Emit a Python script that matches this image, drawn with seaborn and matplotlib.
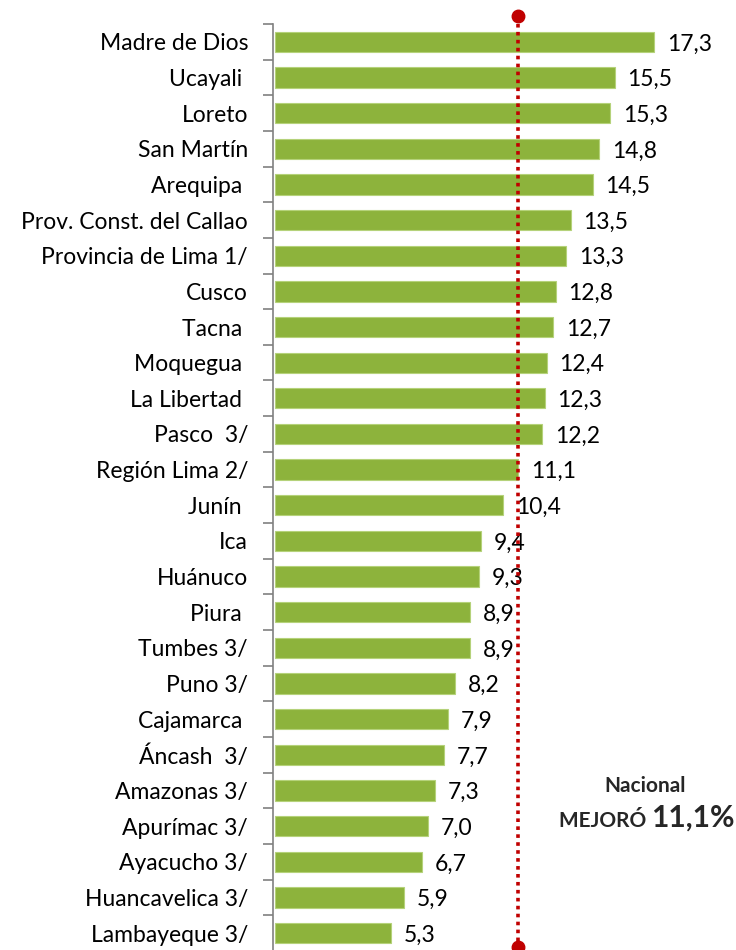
import matplotlib
matplotlib.use("Agg")
import matplotlib.pyplot as plt
import seaborn as sns
import pandas as pd
import numpy as np

regions = ["Madre de Dios", "Ucayali ", "Loreto", "San Martín", "Arequipa ",
           "Prov. Const. del Callao", "Provincia de Lima 1/", "Cusco", "Tacna ",
           "Moquegua ", "La Libertad ", "Pasco  3/", "Región Lima 2/", "Junín ",
           "Ica", "Huánuco", "Piura ", "Tumbes 3/", "Puno 3/", "Cajamarca ",
           "Áncash  3/", "Amazonas 3/", "Apurímac 3/", "Ayacucho 3/",
           "Huancavelica 3/", "Lambayeque 3/"]
values = [17.3, 15.5, 15.3, 14.8, 14.5, 13.5, 13.3, 12.8, 12.7, 12.4, 12.3, 12.2,
          11.1, 10.4, 9.4, 9.3, 8.9, 8.9, 8.2, 7.9, 7.7, 7.3, 7.0, 6.7, 5.9, 5.3]
national = 11.1

sns.set_style("white")
plt.rcParams['font.family'] = ['Lato', 'DejaVu Sans']

df = pd.DataFrame({"region": regions, "value": values})

fig = plt.figure(figsize=(7.36, 9.5), dpi=100)
ax = fig.add_axes([273/736, -0.001, 1 - 273/736, (951 - 24) / 950])

sns.barplot(data=df, y="region", x="value", order=regions, orient="h",
            color="#8DB33C", width=0.57, saturation=1, ax=ax,
            edgecolor="#B5D27A", linewidth=0.8)

ax.set_xlim(-0.1, (736 - 273) / 21.9 - 0.1)
ax.set_ylim(len(regions) - 0.5, -0.5)
ax.set_xlabel("")
ax.set_ylabel("")
ax.set_xticks([])

for s in ["top", "right", "bottom"]:
    ax.spines[s].set_visible(False)
ax.spines["left"].set_color("#808080")
ax.spines["left"].set_linewidth(1.2)

ax.tick_params(axis="y", which="major", left=False, length=0, pad=18,
               labelsize=16.5, labelcolor="#000000")
ax.set_yticks(np.arange(-0.5, len(regions), 1.0), minor=True)
ax.tick_params(axis="y", which="minor", left=True, length=7, width=1.2,
               color="#808080", direction="out")

for i, v in enumerate(values):
    ax.text(v + 0.58, i + 0.06, f"{v:.1f}".replace(".", ","), va="center",
            ha="left", fontsize=16.5, color="#000000")

# national reference line
ax.plot([national, national], [-0.72, len(regions) - 0.6], color="#C00000",
        linestyle=(0, (1, 1.2)), linewidth=2.6, clip_on=False, zorder=5)
ax.plot([national, national], [-0.72, len(regions) - 0.6], linestyle="none",
        marker="o", markersize=9, color="#C00000", clip_on=False, zorder=6)

fig.text(645 / 736, 1 - 786 / 950, "Nacional", ha="center", va="center",
         fontsize=15, fontweight="bold")
fig.text(651 / 736, 1 - 821 / 950, "MEJORÓ ", ha="right", va="center",
         fontsize=15, fontweight="bold")
fig.text(651 / 736, 1 - 818 / 950, "11,1%", ha="left", va="center",
         fontsize=21.5, fontweight="bold")

fig.savefig("out.png", dpi=100)
